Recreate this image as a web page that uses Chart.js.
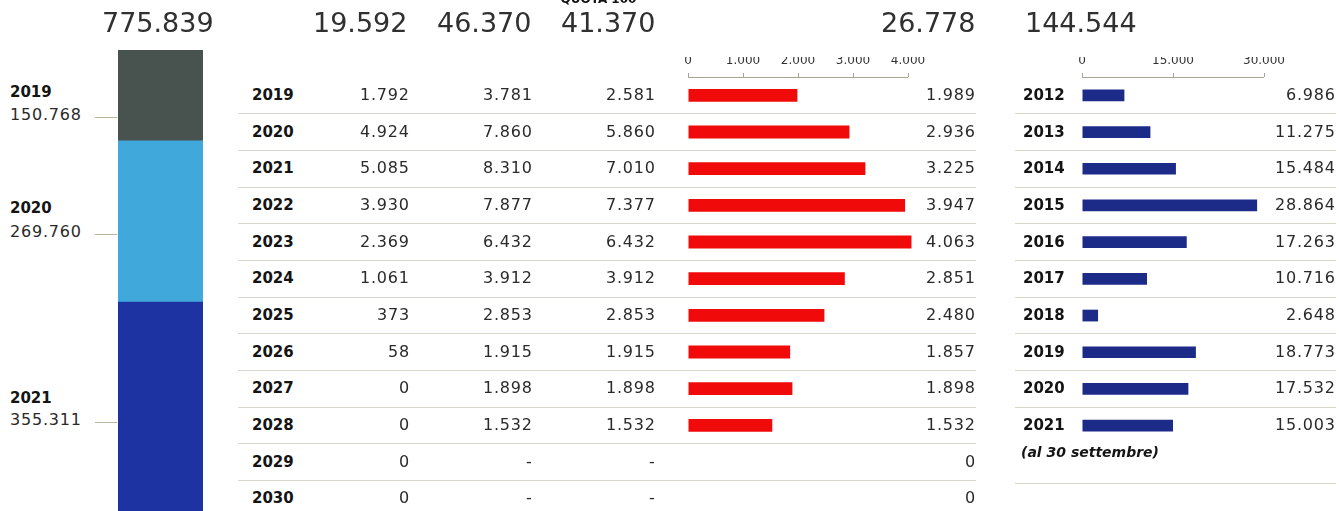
<!DOCTYPE html>
<html>
<head>
<meta charset="utf-8">
<script src="https://cdn.jsdelivr.net/npm/chart.js@4.4.0/dist/chart.umd.min.js"></script>
<style>
  body { margin: 0; width: 1339px; height: 511px; overflow: hidden; background: #fff; position: relative; font-family: "DejaVu Sans", sans-serif; color: #2a2a2a; }
  canvas { position: absolute; }
  .t { position: absolute; white-space: nowrap; line-height: 20px; height: 20px; }
  .num { font-size: 16px; letter-spacing: 0.8px; }
  .yr { font-size: 15px; font-weight: bold; color: #141414; }
  .big { font-size: 27px; line-height: 34px; height: 34px; color: #303030; }
  .sep { position: absolute; height: 0; border-top: 1px solid #d9d6cc; }
</style>
</head>
<body>
<canvas id="stackChart" width="85" height="511" style="left:118px;top:0"></canvas>
<canvas id="redChart" width="300" height="517" style="left:660px;top:0"></canvas>
<canvas id="blueChart" width="250" height="444" style="left:1040px;top:0"></canvas>
<script>
// left column: stacked total
const stackYears = ['2019', '2020', '2021'];
const stackValues = [150768, 269760, 355311];

// middle table
const tableYears = ['2019', '2020', '2021', '2022', '2023', '2024', '2025', '2026', '2027', '2028', '2029', '2030'];
const colA = [1792, 4924, 5085, 3930, 2369, 1061, 373, 58, 0, 0, 0, 0];
const colB = [3781, 7860, 8310, 7877, 6432, 3912, 2853, 1915, 1898, 1532, null, null];
const colC = [2581, 5860, 7010, 7377, 6432, 3912, 2853, 1915, 1898, 1532, null, null];
const redValues = [1989, 2936, 3225, 3947, 4063, 2851, 2480, 1857, 1898, 1532, 0, 0];
const redTicks = [0, 1000, 2000, 3000, 4000];

// right column
const blueYears = ['2012', '2013', '2014', '2015', '2016', '2017', '2018', '2019', '2020', '2021'];
const blueValues = [6986, 11275, 15484, 28864, 17263, 10716, 2648, 18773, 17532, 15003];
const blueTicks = [0, 15000, 30000];

const fmt = v => (v === null ? '-' : String(v).replace(/\B(?=(\d{3})+(?!\d))/g, '.'));
const sum = arr => arr.reduce((a, b) => a + (b || 0), 0);

function txt(s, cls, x, y, align) {
  const d = document.createElement('div');
  d.className = 't ' + cls;
  d.textContent = s;
  document.body.appendChild(d);
  const h = d.offsetHeight;
  d.style.top = (y - h / 2) + 'px';
  if (align === 'right') d.style.left = (x - d.offsetWidth) + 'px';
  else if (align === 'center') d.style.left = (x - d.offsetWidth / 2) + 'px';
  else d.style.left = x + 'px';
  return d;
}
function sep(x1, x2, y) {
  const d = document.createElement('div');
  d.className = 'sep';
  d.style.left = x1 + 'px';
  d.style.width = (x2 - x1) + 'px';
  d.style.top = Math.round(y) + 'px';
  document.body.appendChild(d);
}

const rowY = i => 95 + i * 36.67;

// headers
txt(fmt(sum(stackValues)), 'big', 158, 23, 'center');
txt(fmt(sum(colA)), 'big', 407, 23, 'right');
txt(fmt(sum(colB)), 'big', 531, 23, 'right');
txt(fmt(sum(colC)), 'big', 655, 23, 'right');
txt(fmt(sum(redValues)), 'big', 975, 23, 'right');
txt(fmt(sum(blueValues)), 'big', 1025, 23);
const q = txt('QUOTA 100', 'yr', 608, -1, 'center');
q.style.fontSize = '12px';

// left labels
const leftPos = [[92, 115], [208, 232], [398, 420]];
stackYears.forEach((y, i) => {
  txt(y, 'yr', 10, leftPos[i][0]);
  txt(fmt(stackValues[i]), 'num', 10, leftPos[i][1]);
  const l = document.createElement('div');
  l.className = 'sep';
  l.style.cssText += 'left:95px;width:22px;top:' + (leftPos[i][1] + 2) + 'px;border-top-color:#b9b29c';
  document.body.appendChild(l);
});

// middle table text
tableYears.forEach((y, i) => {
  const cy = rowY(i);
  txt(y, 'yr', 252, cy);
  txt(fmt(colA[i]), 'num', 410, cy, 'right');
  txt(fmt(colB[i]), 'num', 533, cy, 'right');
  txt(fmt(colC[i]), 'num', 656, cy, 'right');
  txt(fmt(redValues[i]), 'num', 976, cy, 'right');
  if (i < tableYears.length - 1) sep(238, 976, cy + 18.3);
});

// right table text
blueYears.forEach((y, i) => {
  const cy = rowY(i);
  txt(y, 'yr', 1023, cy);
  txt(fmt(blueValues[i]), 'num', 1336, cy, 'right');
  if (i < blueYears.length - 1) sep(1015, 1336, cy + 18.3);
});
const note = txt('(al 30 settembre)', 'yr', 1021, 452);
note.style.fontStyle = 'italic';
note.style.fontSize = '14px';
sep(1015, 1336, 483);

// axis line only up to last tick
const axisLine = {
  id: 'axisLine',
  afterDraw(chart, args, opts) {
    const x = chart.scales.x;
    const top = chart.chartArea.top + 0.5;
    const c = chart.ctx;
    c.save();
    c.strokeStyle = '#a8a496';
    c.lineWidth = 1;
    c.beginPath();
    c.moveTo(x.getPixelForValue(0), top);
    c.lineTo(x.getPixelForValue(opts.limit), top);
    c.stroke();
    c.restore();
  }
};

function hbarOptions(maxVal, tickList, pad, limit) {
  return {
    indexAxis: 'y',
    responsive: false,
    animation: false,
    layout: { padding: pad },
    plugins: { legend: { display: false }, tooltip: { enabled: false }, axisLine: { limit: limit } },
    scales: {
      x: {
        position: 'top',
        min: 0,
        max: maxVal,
        afterBuildTicks: s => { s.ticks = tickList.map(v => ({ value: v })); },
        afterFit: s => { s.height = 20; },
        ticks: { callback: v => fmt(v), font: { size: 12, family: 'DejaVu Sans' }, color: '#333', padding: 5, maxRotation: 0 },
        grid: { drawOnChartArea: false, tickLength: 4, color: '#a8a496' },
        border: { display: false }
      },
      y: { display: false }
    }
  };
}

new Chart(document.getElementById('stackChart'), {
  type: 'bar',
  data: {
    labels: ['totale'],
    datasets: stackYears.map((y, i) => ({
      label: y,
      data: [stackValues[i]],
      backgroundColor: ['#48524f', '#40a8da', '#1d33a2'][i],
      borderWidth: 0,
      barPercentage: 1,
      categoryPercentage: 1
    }))
  },
  options: {
    responsive: false,
    animation: false,
    layout: { padding: { top: 50 } },
    plugins: { legend: { display: false }, tooltip: { enabled: false } },
    scales: {
      x: { display: false, stacked: true },
      y: { display: false, stacked: true, reverse: true, min: 0, max: 771000 }
    }
  }
});

new Chart(document.getElementById('redChart'), {
  type: 'bar',
  data: {
    labels: tableYears,
    datasets: [{
      data: redValues,
      backgroundColor: '#f00a0a',
      borderWidth: 0,
      barPercentage: 0.35,
      categoryPercentage: 1
    }]
  },
  options: hbarOptions(4200, redTicks, { left: 28, right: 41, top: 57, bottom: 0 }, 4000),
  plugins: [axisLine]
});

new Chart(document.getElementById('blueChart'), {
  type: 'bar',
  data: {
    labels: blueYears,
    datasets: [{
      data: blueValues,
      backgroundColor: '#1c2b88',
      borderWidth: 0,
      barPercentage: 0.32,
      categoryPercentage: 1
    }]
  },
  options: hbarOptions(30000, blueTicks, { left: 42, right: 18, top: 57, bottom: 0 }, 30000),
  plugins: [axisLine]
});
</script>
</body>
</html>
